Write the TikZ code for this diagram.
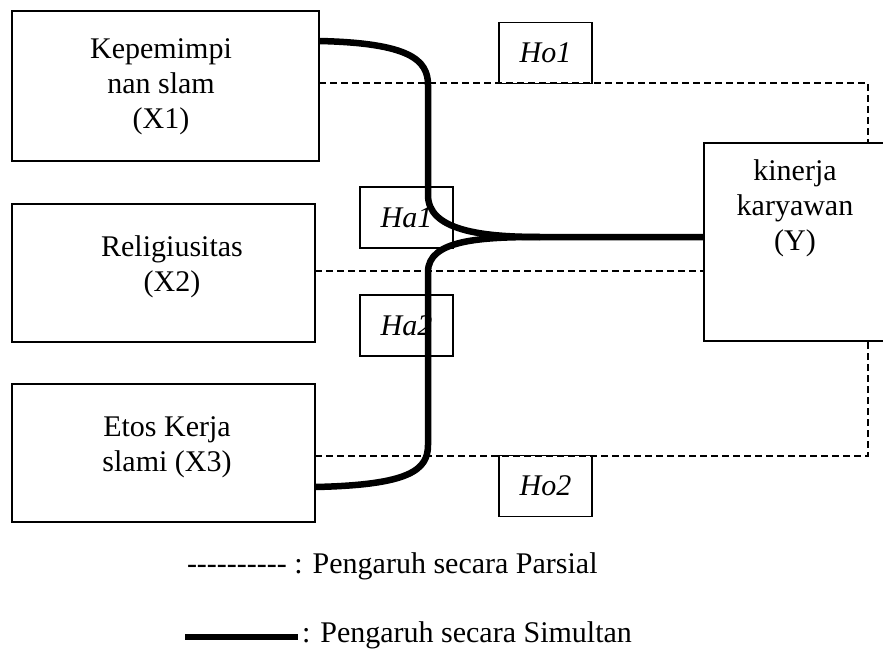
\documentclass[tikz,border=0pt]{standalone}
\usepackage{fontspec}
\setmainfont{Liberation Serif}[Ligatures=TeXOff]
\begin{document}
\begin{tikzpicture}[x=1pt,y=-1pt,
  every node/.style={font=\fontsize{30}{35}\selectfont, inner sep=0pt, outer sep=0pt},
  box/.style={draw, line width=1.5pt, rectangle},
  txt/.style={align=center},
  hbox/.style={draw, line width=1.3pt, rectangle, minimum width=93pt, minimum height=61pt, font=\fontsize{30}{35}\selectfont\itshape},
  part/.style={line width=1.4pt, dash pattern=on 7pt off 4pt},
  simul/.style={line width=6.5pt, line join=round}
]
\useasboundingbox (0,0) rectangle (883,650);
% variable boxes
\node[box, minimum width=307pt, minimum height=150pt] (x1) at (165.5,86) {};
\node[box, minimum width=303pt, minimum height=138pt] (x2) at (163.5,273) {};
\node[box, minimum width=303pt, minimum height=138pt] (x3) at (163.5,453) {};
\node[box, minimum width=184pt, minimum height=198pt] (y) at (796,242) {};
\node[txt] (tx1) at (161,87) {Kepemimpi\\nan slam\\(X1)};
\node[txt] (tx2) at (172,267) {Religiusitas\\(X2)};
\node[txt] (tx3) at (167,447) {Etos Kerja\\slami (X3)};
\node[txt] (ty) at (795,208) {kinerja\\karyawan\\(Y)};
% hypothesis boxes
\node[hbox] (ho1) at (545.5,53) {Ho1};
\node[hbox] (ho2) at (545.5,486) {Ho2};
\node[hbox] (ha1) at (406.5,217.5) {Ha1};
\node[hbox] (ha2) at (406.5,325.5) {Ha2};
% partial (dashed) connectors
\coordinate (c1) at (868,83);
\coordinate (c2) at (868,456);
\draw[part] ([yshift=3pt]x1.east) -- (c1) -- (c1 |- y.north);
\draw[part] ([yshift=2pt]x2.east) -- ([yshift=2pt]x2.east -| y.west);
\draw[part] ([yshift=-3pt]x3.east) -- (c2) -- (c2 |- y.south);
% simultaneous (thick) connectors
\coordinate (m) at (540,237);
\draw[simul] ([yshift=45pt]x1.east) .. controls (410,43) and (428,60) .. (428,85)
  -- (428,195) .. controls (428,230) and (480,237) .. (m) -- (m -| y.west);
\draw[simul] ([yshift=-34pt]x3.east) .. controls (410,485) and (428,470) .. (428,445)
  -- (428,272) .. controls (428,240) and (480,237) .. (m);
% legend
\node[anchor=base west] (lg1) at (187,573) {---------- : Pengaruh secara Parsial};
\coordinate (l2a) at (185,637);
\node[anchor=base west] (lg2) at (302,642) {: Pengaruh secara Simultan};
\draw[line width=6pt] (l2a) -- ([xshift=-4pt]lg2.west |- l2a);
\end{tikzpicture}
\end{document}
